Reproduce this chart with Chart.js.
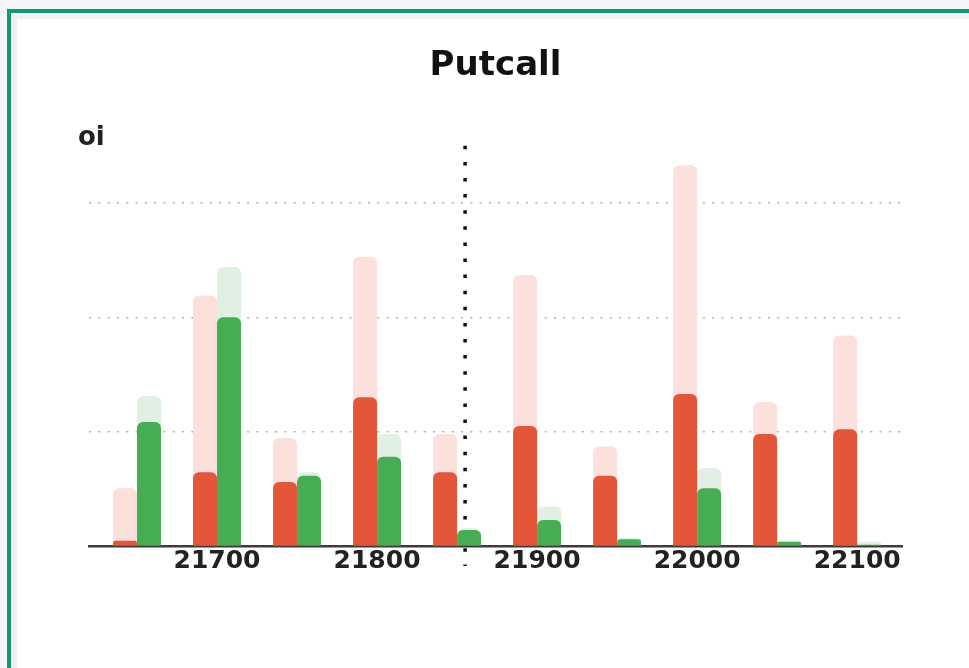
<!DOCTYPE html>
<html>
<head>
<meta charset="utf-8">
<title>Putcall</title>
<script src="https://cdn.jsdelivr.net/npm/chart.js@4/dist/chart.umd.min.js"></script>
<style>
  html, body { margin: 0; padding: 0; }
  body { width: 969px; height: 668px; overflow: hidden; background: #f4f5f7; position: relative; }
  .frame {
    position: absolute; left: 7px; top: 9px; width: 1000px; height: 700px;
    border-left: 4px solid #0f9b74; border-top: 4px solid #0f9b74;
    background: #fff; box-sizing: border-box; padding: 2px 0 0 2px;
  }
  .inner {
    width: 100%; height: 100%; box-sizing: border-box;
    border-left: 4px solid #eef0f3; border-top: 4px solid #eef0f3; background: #fff;
  }
  #chartBox { position: absolute; left: 17px; top: 19px; width: 966px; height: 649px; }
</style>
</head>
<body>
<div class="frame"><div class="inner"></div></div>
<div id="chartBox"><canvas id="putcallChart"></canvas></div>
<script>
// データ (ストライク毎のOI)
const strikes = [21650, 21700, 21750, 21800, 21850, 21900, 21950, 22000, 22050, 22100];
const putOi      = [4600, 64500, 56000, 130000, 64500, 105000, 61400, 133000, 98000, 102000];
const putOiPrev  = [50500, 219000, 94500, 253000, 98000, 237000, 87000, 333000, 126000, 184000];
const callOi     = [108500, 200000, 61400, 78000, 14000, 22800, 5800, 50500, 3800, 1000];
const callOiPrev = [131000, 244000, 64500, 98000, 15500, 34500, 7000, 68000, 4500, 3500];
const xTicks = [21700, 21800, 21900, 22000, 22100];
const yTicks = [0, 100000, 200000, 300000];
const spotPrice = 21855;
const chartTitle = 'Putcall';
const yAxisTitle = 'oi';

Chart.defaults.font.family = "'DejaVu Sans', sans-serif";

// スポット価格の縦点線 (バーの後ろに描く)
const spotLinePlugin = {
    id: 'spotLine',
    beforeDatasetsDraw(chart) {
        const { ctx, chartArea, scales: { x } } = chart;
        const px = x.getPixelForValue(spotPrice);
        ctx.save();
        ctx.strokeStyle = '#111';
        ctx.lineWidth = 3.5;
        ctx.setLineDash([3.5, 12.6]);
        ctx.beginPath();
        ctx.moveTo(px, chartArea.top);
        ctx.lineTo(px, chartArea.bottom + 20);
        ctx.stroke();
        ctx.restore();
    }
};

// 左上の "oi" ラベル
const yTitlePlugin = {
    id: 'yTitle',
    afterDraw(chart) {
        const { ctx, chartArea } = chart;
        ctx.save();
        ctx.font = "bold 26px 'DejaVu Sans'";
        ctx.fillStyle = '#222';
        ctx.textAlign = 'left';
        ctx.textBaseline = 'alphabetic';
        ctx.fillText(yAxisTitle, chartArea.left - 11, chartArea.top - 1);
        ctx.restore();
    }
};

const barStyle = { borderRadius: 6, borderSkipped: 'start', barPercentage: 1.0, categoryPercentage: 0.6 };

const config = {
    type: 'bar',
    data: {
        labels: strikes,
        datasets: [
            { label: 'Put OI', data: putOi, stack: 'put', backgroundColor: '#e3563a', ...barStyle },
            { label: 'Call OI', data: callOi, stack: 'call', backgroundColor: '#46ad55', ...barStyle },
            { label: 'Put OI prev', data: putOiPrev, stack: 'put', backgroundColor: '#fbe0dc', ...barStyle },
            { label: 'Call OI prev', data: callOiPrev, stack: 'call', backgroundColor: '#e0f0e3', ...barStyle }
        ]
    },
    options: {
        responsive: true,
        maintainAspectRatio: false,
        animation: false,
        layout: {
            padding: { left: 72, right: 81, top: 0, bottom: 92 }
        },
        scales: {
            x: {
                type: 'linear',
                stacked: true,
                offset: false,
                min: 21620,
                max: 22128,
                grid: { display: true, drawOnChartArea: false, drawTicks: false, offset: false },
                border: { display: true, color: '#3c3c3c', width: 2.5 },
                afterBuildTicks: (axis) => { axis.ticks = xTicks.map(v => ({ value: v })); },
                ticks: {
                    padding: 0,
                    color: '#222',
                    font: { size: 25, weight: 'bold' },
                    callback: (value) => String(value)
                }
            },
            y: {
                stacked: false,
                min: 0,
                max: 350000,
                border: { display: false, dash: [2, 7.3] },
                afterBuildTicks: (axis) => { axis.ticks = yTicks.map(v => ({ value: v })); },
                grid: {
                    drawTicks: false,
                    lineWidth: 1.5,
                    color: (ctx) => (ctx.tick && ctx.tick.value > 0) ? '#b0b0b0' : 'rgba(0,0,0,0)'
                },
                ticks: { display: false }
            }
        },
        plugins: {
            legend: { display: false },
            tooltip: { enabled: false },
            title: {
                display: true,
                text: chartTitle,
                color: '#111',
                font: { size: 34, weight: 'bold' },
                padding: { top: 27, bottom: 59 }
            }
        }
    },
    plugins: [spotLinePlugin, yTitlePlugin]
};

function renderChart() {
    const canvas = document.getElementById('putcallChart');
    new Chart(canvas.getContext('2d'), config);
}

document.addEventListener('DOMContentLoaded', renderChart);
</script>
</body>
</html>
